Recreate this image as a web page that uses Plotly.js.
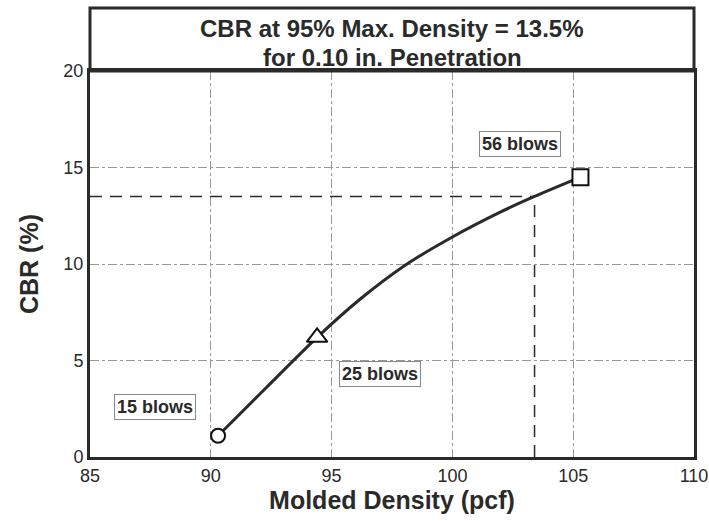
<!DOCTYPE html>
<html><head><meta charset="utf-8">
<script src="https://cdn.plot.ly/plotly-3.0.1.min.js"></script>
<style>html,body{margin:0;padding:0;background:#fff}#chart{width:709px;height:521px}</style>
</head><body><div id="chart"></div>
<script>
// Measured points (molded density, CBR)
const pointDensity = [90.3, 94.4, 105.3];
const pointCBR = [1.1, 6.2, 14.5];
const pointSymbols = ['circle', 'triangle-up', 'square'];
// Fitted curve
const curveDensity = [90.3, 92.3, 94.4, 96.2, 98.0, 100.0, 102.0, 103.4, 105.3];
const curveCBR = [1.1, 3.6, 6.2, 8.2, 9.9, 11.4, 12.7, 13.5, 14.5];
// 95% max density reading
const targetDensity = 103.4;
const targetCBR = 13.5;
const blowLabels = ['15 blows', '25 blows', '56 blows'];
const labelX = [87.7, 97.0, 102.8];
const labelY = [2.6, 4.3, 16.2];
const titleLines = ['CBR at 95% Max. Density = 13.5%', 'for 0.10 in. Penetration'];
const xTicks = [85, 90, 95, 100, 105, 110];
const yTicks = [0, 5, 10, 15, 20];

const ink = '#2a2a2a';
const traces = [
  {x: [85, targetDensity], y: [targetCBR, targetCBR], mode: 'lines',
   line: {color: ink, width: 1.5, dash: '12px,8px'}, hoverinfo: 'skip'},
  {x: [targetDensity, targetDensity], y: [0, targetCBR], mode: 'lines',
   line: {color: ink, width: 1.5, dash: '12px,8px'}, hoverinfo: 'skip'},
  {x: curveDensity, y: curveCBR, mode: 'lines',
   line: {color: ink, width: 3, shape: 'spline', smoothing: 0.8}},
  {x: pointDensity, y: pointCBR, mode: 'markers',
   marker: {symbol: pointSymbols, size: [14, 18, 16], color: '#ffffff', opacity: 1,
            line: {color: '#111111', width: 2}}}
];

const annotations = blowLabels.map((t, i) => ({
  x: labelX[i], y: labelY[i], xref: 'x', yref: 'y', text: '<b>' + t + '</b>', showarrow: false,
  font: {family: 'Liberation Sans, Arial, sans-serif', size: 18, color: ink},
  bordercolor: '#888', borderwidth: 1, borderpad: 2, bgcolor: '#fff'
}));
[1.111, 1.034].forEach((yy, i) => annotations.push({
  xref: 'paper', yref: 'paper', x: 0.5, y: yy, yanchor: 'middle', showarrow: false,
  text: '<b>' + titleLines[i] + '</b>',
  font: {family: 'Liberation Sans, Arial, sans-serif', size: 24, color: ink}
}));

const layout = {
  width: 709, height: 521,
  margin: {l: 90, r: 15, t: 71, b: 64},
  paper_bgcolor: '#fff', plot_bgcolor: '#fff',
  showlegend: false,
  font: {family: 'Liberation Sans, Arial, sans-serif', color: ink},
  xaxis: {
    range: [85, 110], tickvals: xTicks, ticktext: xTicks.map(String),
    showgrid: true, gridcolor: '#999', griddash: 'dashdot', gridwidth: 1,
    showline: true, mirror: true, linecolor: ink, linewidth: 3, zeroline: false,
    ticks: '', tickfont: {size: 18, color: ink},
    title: {text: '<b>Molded Density (pcf)</b>', font: {size: 25, color: ink}, standoff: 4}
  },
  yaxis: {
    range: [0, 20], tickvals: yTicks, ticktext: yTicks.map(String),
    showgrid: true, gridcolor: '#999', griddash: 'dashdot', gridwidth: 1,
    showline: true, mirror: true, linecolor: ink, linewidth: 3, zeroline: false,
    ticks: '', tickfont: {size: 18, color: ink},
    title: {text: '<b>CBR (%)</b>', font: {size: 25, color: ink}, standoff: 18}
  },
  shapes: [
    {type: 'rect', xref: 'paper', yref: 'paper', x0: 0, x1: 1, y0: 1, y1: 1.163,
     line: {color: ink, width: 3}, fillcolor: 'rgba(0,0,0,0)'}
  ],
  annotations: annotations
};
Plotly.newPlot('chart', traces, layout, {displayModeBar: false, staticPlot: true});
</script></body></html>
